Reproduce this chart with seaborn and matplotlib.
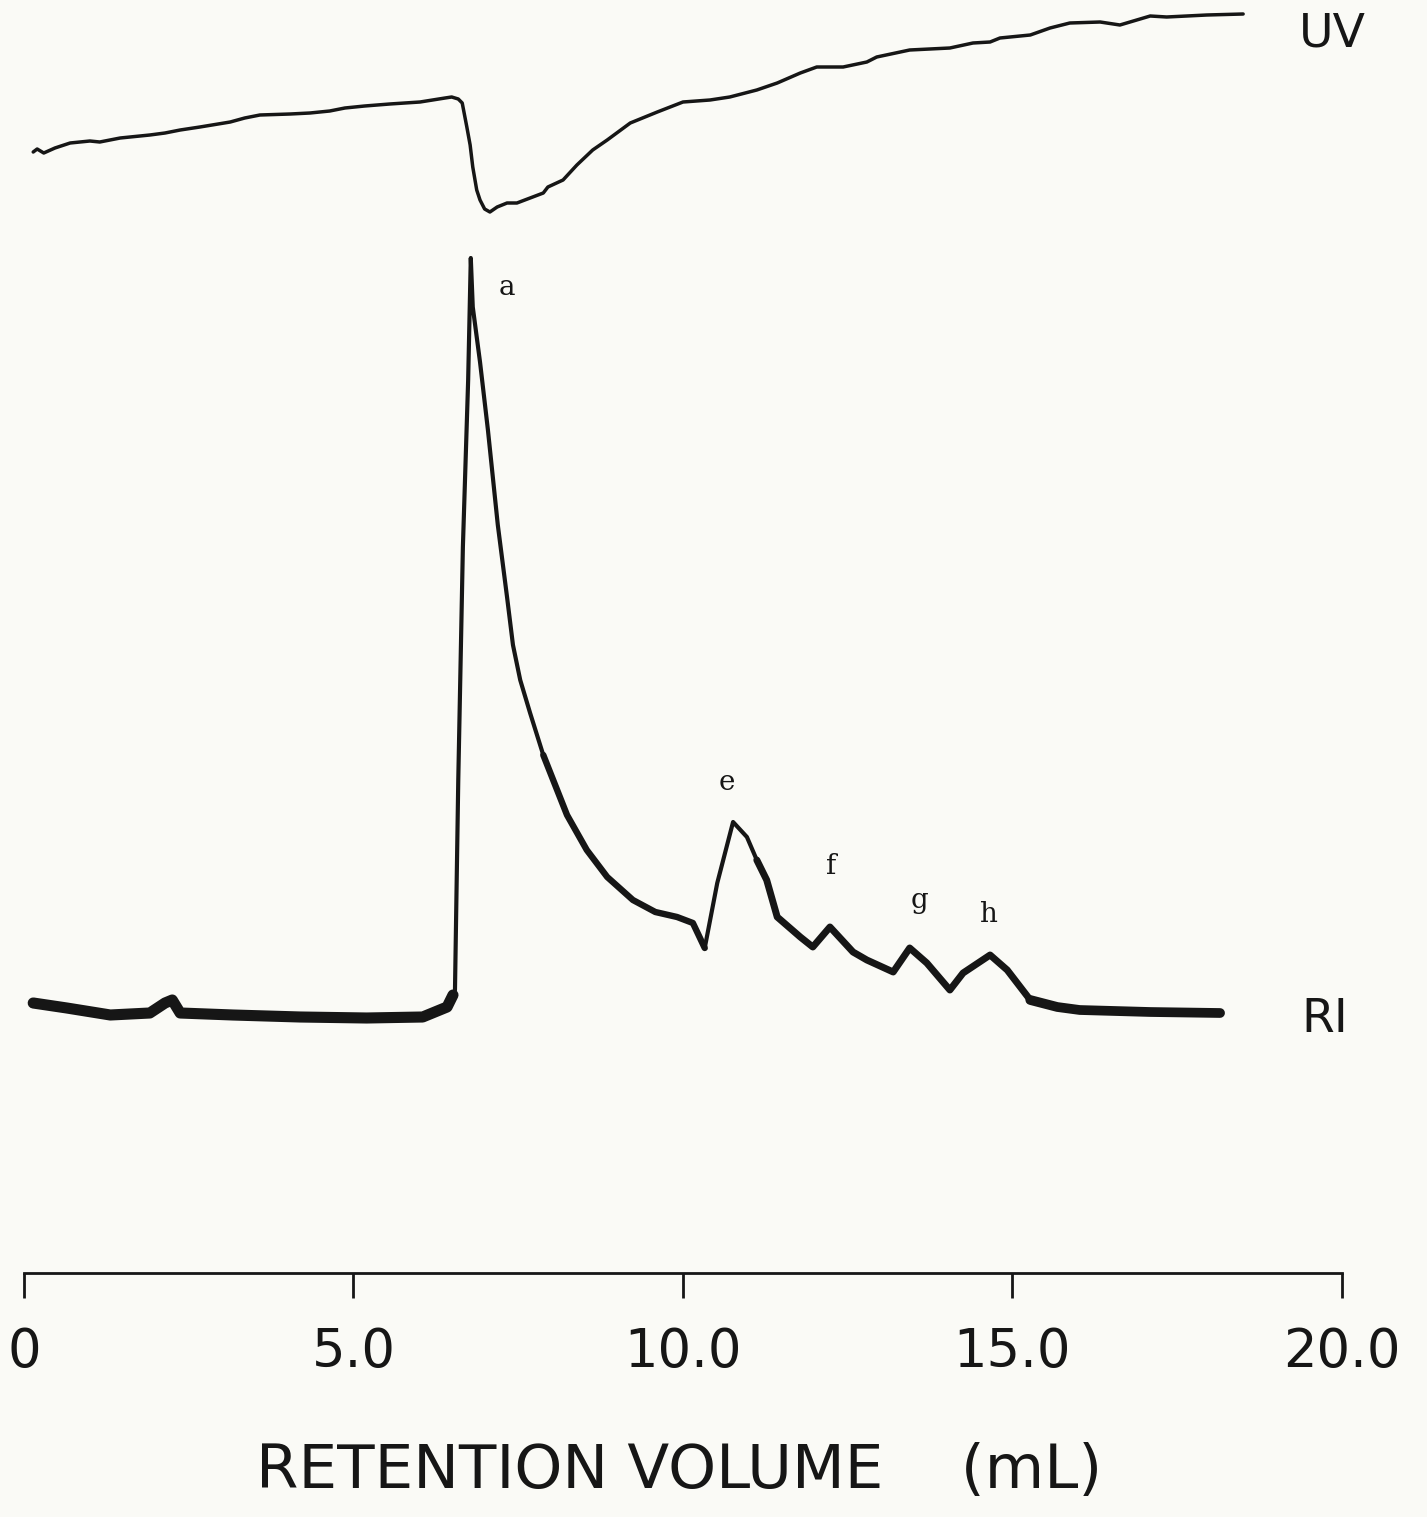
import matplotlib
matplotlib.use("Agg")
import matplotlib.pyplot as plt
import numpy as np
import pandas as pd
import seaborn as sns

# UV trace: retention volume (mL) and response (arbitrary units, 0 = bottom of dip)
uv_volume = [0.14, 0.20, 0.30, 0.47, 0.70, 1.00, 1.15, 1.46, 1.91, 2.14, 2.37, 2.67,
             3.13, 3.35, 3.58, 4.04, 4.34, 4.64, 4.87, 5.17, 5.55, 6.01, 6.39, 6.49,
             6.59, 6.65, 6.72, 6.77, 6.81, 6.87, 6.92, 6.99, 7.07, 7.18, 7.33, 7.48,
             7.68, 7.88, 7.95, 8.18, 8.39, 8.63, 8.85, 9.20, 9.61, 10.00, 10.41, 10.71,
             11.12, 11.43, 11.78, 12.03, 12.43, 12.79, 12.94, 13.44, 14.05, 14.40, 14.66,
             14.81, 15.27, 15.57, 15.87, 16.33, 16.63, 17.09, 17.34, 17.95, 18.50]
uv_response = [60, 63, 59, 64, 69, 71, 70, 74, 77, 79, 82, 85,
               90, 94, 97, 98, 99, 101, 104, 106, 108, 110, 114, 115,
               113, 109, 85, 67, 45, 22, 12, 3, 0, 5, 9, 9,
               14, 19, 25, 32, 47, 62, 72, 89, 100, 110, 112, 115,
               122, 129, 139, 145, 145, 150, 155, 162, 164, 169, 170,
               174, 177, 184, 189, 190, 187, 196, 195, 197, 198]

# RI trace: retention volume (mL) and response (arbitrary units, 0 = baseline)
ri_volume = [0.14, 0.65, 1.31, 1.91, 2.14, 2.25, 2.37, 3.17, 4.19, 5.20, 6.05, 6.42,
             6.51, 6.54, 6.59, 6.66, 6.74, 6.78, 6.81, 6.92, 7.04, 7.19, 7.33,
             7.42, 7.53, 7.68, 7.88, 8.06, 8.24, 8.54, 8.85, 9.24, 9.58, 9.91, 10.15,
             10.33, 10.52, 10.76, 10.97, 11.12, 11.27, 11.43, 11.78, 11.97, 12.23, 12.58,
             12.79, 13.19, 13.44, 13.70, 14.05, 14.25, 14.66, 14.92, 15.27, 15.68, 16.02,
             17.09, 18.15]
ri_response = [12, 7, 0, 2, 12, 15, 2, 0, -2, -3, -2, 8,
               20, 25, 235, 468, 635, 757, 708, 653, 585, 490, 418,
               370, 335, 302, 260, 230, 200, 165, 138, 115, 103, 98, 92,
               67, 132, 193, 178, 155, 135, 98, 78, 68, 88, 63,
               55, 43, 67, 52, 25, 42, 60, 45, 15, 8, 5,
               3, 2]

tick_values = [0, 5, 10, 15, 20]
tick_labels = ["0", "5.0", "10.0", "15.0", "20.0"]

peak_names = ["a", "e", "f", "g", "h"]
peak_label_x = [7.33, 10.67, 12.25, 13.59, 14.63]
peak_label_y = [1230, 735, 651, 617, 603]

# vertical placement of the two traces on the sheet
UV_OFFSET = 1305
RI_OFFSET = 502
AXIS_Y = 244

bg = "#fafaf6"
ink = "#161616"
sns.set_theme(style="white")
plt.rcParams["font.family"] = ["DejaVu Sans"]

uv = pd.DataFrame({"volume": uv_volume, "signal": np.array(uv_response) + UV_OFFSET})
ri = pd.DataFrame({"volume": ri_volume, "signal": np.array(ri_response) + RI_OFFSET})

fig = plt.figure(figsize=(14.27, 15.17), dpi=100, facecolor=bg)
ax = fig.add_axes([0, 0, 1, 1])
ax.set_facecolor(bg)

line_kw = dict(estimator=None, sort=False, solid_capstyle="round", solid_joinstyle="round")
sns.lineplot(data=uv, x="volume", y="signal", ax=ax, color=ink, linewidth=2.5, **line_kw)
sns.lineplot(data=ri, x="volume", y="signal", ax=ax, color=ink, linewidth=3.0, **line_kw)

# the noisy stretches of the RI record print as a heavier band
flat_left = ri[ri["volume"] <= 6.51]
flat_right = ri[ri["volume"] >= 15.27]
tail = ri[(ri["volume"] >= 7.88) & (ri["volume"] <= 10.33)]
tail2 = ri[(ri["volume"] >= 11.12) & (ri["volume"] <= 15.68)]
for part, lw in [(flat_left, 8.0), (flat_right, 7.0), (tail, 4.6), (tail2, 5.0)]:
    sns.lineplot(data=part, x="volume", y="signal", ax=ax, color=ink,
                 linewidth=lw, **line_kw)

ax.set_xlim(-0.364, 21.29)
ax.set_ylim(0, 1517)

for s in ["left", "right", "top"]:
    ax.spines[s].set_visible(False)
ax.spines["bottom"].set_position(("data", AXIS_Y))
ax.spines["bottom"].set_bounds(0, 20)
ax.spines["bottom"].set_linewidth(2.0)
ax.spines["bottom"].set_color(ink)

ax.set_xticks(tick_values)
ax.set_xticklabels(tick_labels)
ax.tick_params(axis="x", direction="out", length=18, width=2.0, pad=20,
               labelsize=38, colors=ink, bottom=True)
ax.set_yticks([])
ax.set_xlabel("")
ax.set_ylabel("")

ax.text(9.94, 45, "RETENTION VOLUME    (mL)", fontsize=44, ha="center", va="center",
        color=ink)
ax.text(19.86, 1483, "UV", fontsize=34, ha="center", va="center", color=ink)
ax.text(19.74, 497, "RI", fontsize=34, ha="center", va="center", color=ink)

for name, lx, ly in zip(peak_names, peak_label_x, peak_label_y):
    ax.text(lx, ly, name, fontsize=20, ha="center", va="center",
            family=["DejaVu Serif"], color=ink)

fig.savefig("out.png", dpi=100, facecolor=bg)
